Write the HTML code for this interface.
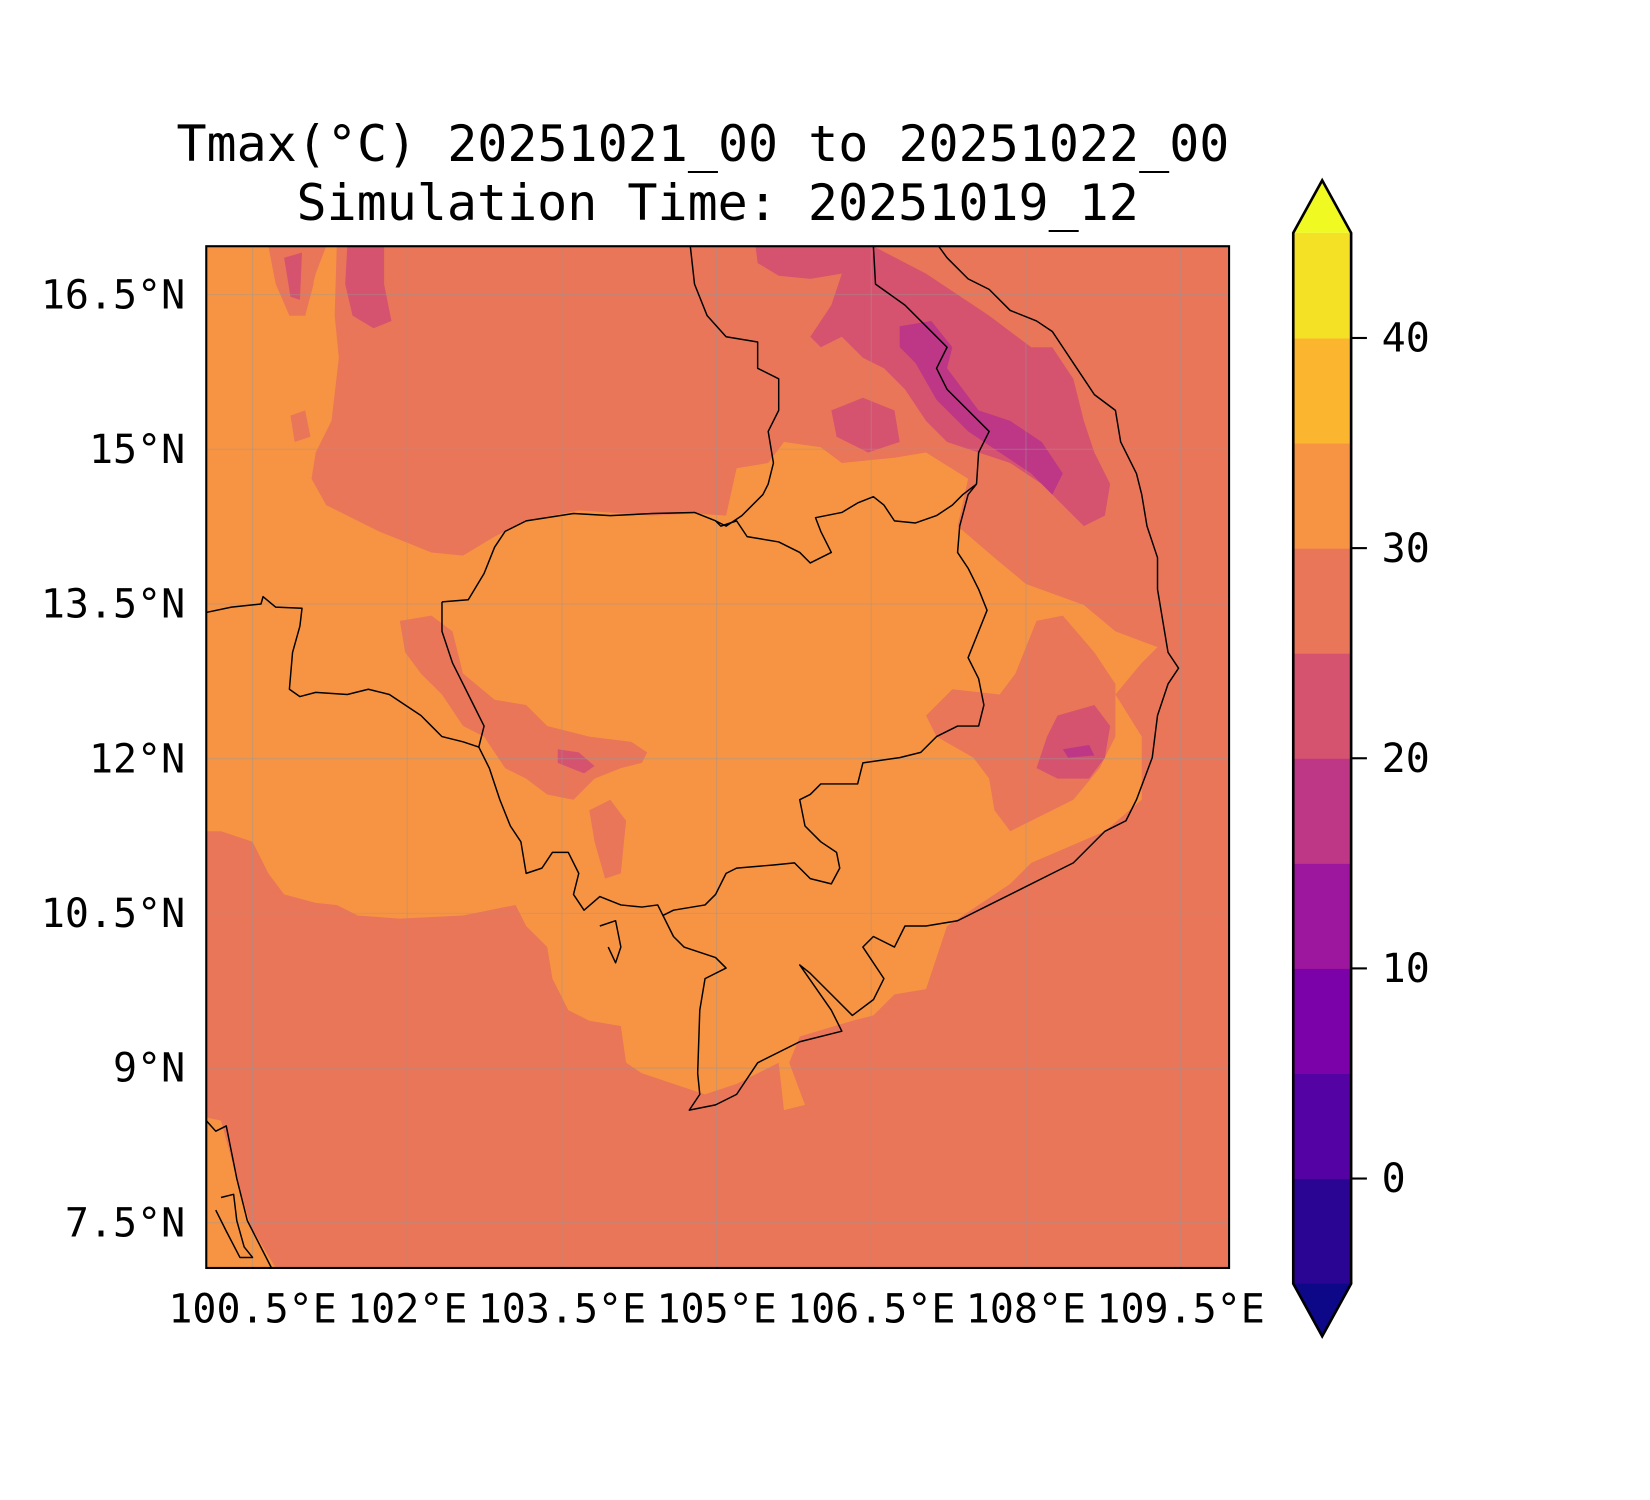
<!DOCTYPE html>
<html><head><meta charset="utf-8"><style>
html,body{margin:0;padding:0;background:#fff;}
svg{display:block;}
text{font-family:"DejaVu Sans Mono","Liberation Mono",monospace;fill:#000;}
</style></head><body>
<svg id="chart" width="1650" height="1500" viewBox="0 0 1568 1425.5" xmlns="http://www.w3.org/2000/svg">
<rect width="1568" height="1426" fill="#fff"/>
<text x="668" y="153" font-size="47.5" text-anchor="middle">Tmax(°C) 20251021_00 to 20251022_00</text>
<text x="682" y="209" font-size="47.5" text-anchor="middle">Simulation Time: 20251019_12</text>
<defs><clipPath id="clip"><rect x="196" y="234" width="972" height="971"/></clipPath></defs>
<g id="map" clip-path="url(#clip)"></g>
<rect x="196" y="234" width="972" height="971" fill="none" stroke="#000" stroke-width="2"/>
<g id="axes"></g>
<g id="cbar"></g>
</svg>
<script>
// axis ranges
const lonTicks = [100.5, 102, 103.5, 105, 106.5, 108, 109.5];
const lonLabels = ["100.5°E","102°E","103.5°E","105°E","106.5°E","108°E","109.5°E"];
const latTicks = [16.5, 15, 13.5, 12, 10.5, 9, 7.5];
const latLabels = ["16.5°N","15°N","13.5°N","12°N","10.5°N","9°N","7.5°N"];
// colorbar levels
const levels = [-5,0,5,10,15,20,25,30,35,40,45];
const levelColors = ["#2a0593","#5402a3","#7a02a8","#9c179e","#bd3786","#d5536f","#e97659","#f79443","#fcb52e","#f4e024"];
const cbTicks = [0,10,20,30,40];
const extendMin = "#0d0887", extendMax = "#f0f921";

const x = lon => 240 + (lon - 100.5) * 98;
const y = lat => 280 - (lat - 16.5) * 98;
const cy = v => 1120 - v * 19.97;
const toLL = a => a.map(p => [100.5 + (p[0]-240)/98, 16.5 - (p[1]-280)/98]);
const NS = "http://www.w3.org/2000/svg";
function mk(tag, attrs, parent){const e=document.createElementNS(NS,tag);for(const k in attrs)e.setAttribute(k,attrs[k]);parent.appendChild(e);return e;}
const ptsStr = ll => ll.map(p => x(p[0]).toFixed(1)+","+y(p[1]).toFixed(1)).join(" ");

// digitized contour regions (lon/lat)
const region30 = toLL([[196,234],[255,234],[262,270],[275,300],[290,300],[300,260],[310,234],[320,234],[318,300],[322,340],[315,400],[300,430],[296,455],[310,480],[360,505],[410,525],[440,528],[470,510],[500,495],[550,485],[620,490],[660,488],[690,490],[700,445],[730,440],[745,420],[780,425],[800,440],[850,435],[880,430],[920,455],[910,500],[945,530],[975,555],[1030,575],[1060,600],[1100,615],[1085,630],[1060,660],[1085,700],[1085,760],[1050,790],[980,820],[960,840],[930,860],[900,880],[880,940],[850,945],[830,965],[810,970],[760,985],[750,1010],[765,1050],[745,1055],[740,1010],[720,1020],[700,1030],[670,1040],[640,1030],[610,1020],[595,1010],[590,975],[560,970],[540,960],[525,930],[520,900],[500,880],[490,860],[440,870],[380,873],[340,870],[320,860],[300,858],[270,850],[255,830],[240,800],[210,790],[196,790]]);
const region30b = toLL([[196,1062],[210,1065],[225,1120],[238,1165],[262,1205],[196,1205]]);
const region25 = [
 toLL([[380,590],[410,585],[430,600],[440,640],[470,665],[500,670],[520,690],[560,700],[600,705],[615,715],[610,725],[590,730],[565,740],[545,760],[520,755],[500,740],[480,730],[460,700],[440,690],[420,660],[400,640],[385,620]]),
 toLL([[560,770],[580,760],[595,780],[590,830],[575,835],[565,800]]),
 toLL([[965,640],[985,590],[1010,585],[1040,620],[1060,650],[1060,700],[1045,730],[1020,760],[990,775],[960,790],[945,770],[940,740],[925,720],[890,700],[880,680],[905,655],[950,660]]),
 toLL([[276,395],[290,390],[295,415],[280,420]]),
 toLL([[268,245],[290,245],[298,270],[290,300],[275,300]])
];
const region20 = [
 toLL([[330,234],[365,234],[365,270],[372,305],[355,312],[335,300],[328,270]]),
 toLL([[718,234],[830,234],[880,260],[940,300],[980,330],[1000,330],[1020,360],[1030,400],[1040,430],[1055,460],[1050,490],[1030,500],[1010,480],[990,460],[960,440],[930,430],[900,420],[880,400],[860,370],[840,350],[820,340],[800,320],[780,330],[770,320],[790,290],[800,260],[770,265],[740,262],[720,250]]),
 toLL([[790,390],[820,378],[850,390],[855,420],[825,430],[795,415]]),
 toLL([[1005,680],[1040,670],[1055,690],[1050,720],[1035,740],[1005,740],[985,730],[995,700]]),
 toLL([[530,712],[550,715],[565,728],[555,735],[530,725]]),
 toLL([[270,245],[287,240],[285,285],[276,282]])
];
const region15 = [
 toLL([[855,310],[885,305],[905,330],[900,350],[930,390],[960,400],[990,420],[1010,450],[1000,470],[980,450],[950,430],[920,410],[890,380],[870,345],[855,330]]),
 toLL([[1010,712],[1035,708],[1040,718],[1015,720]])
];
const coasts = [
 toLL([[420,572],[445,570],[460,545],[470,520],[480,505],[500,495],[545,488],[580,490],[620,488],[660,487],[680,495],[685,500],[700,495],[710,510],[740,515],[760,525],[770,535],[790,525],[780,505],[775,492],[800,487],[815,478],[830,472],[840,480],[850,495],[870,497],[890,490],[905,480],[915,470],[928,460]]),
 toLL([[928,460],[920,470],[912,500],[910,525],[920,540],[930,560],[938,580],[930,600],[920,625],[930,645],[935,670],[930,690],[910,690],[890,700],[875,715],[855,720],[820,725],[815,745],[780,745],[770,755],[760,760],[765,785],[780,800],[795,810],[798,825],[790,840],[770,835],[755,820],[735,822],[700,825],[690,830],[680,850],[670,860],[640,865],[630,870],[625,860],[610,862],[590,860],[570,852],[555,865],[545,850],[550,830],[540,810],[525,810],[515,825],[500,830],[495,800],[485,785],[475,760],[465,730],[455,710],[460,690],[450,670],[440,650],[430,630],[420,600],[420,572]]),
 toLL([[196,582],[220,577],[248,574],[250,567],[262,577],[287,578],[285,595],[278,620],[275,655],[285,662],[300,658],[330,660],[350,655],[370,660],[385,670],[400,680],[410,690],[420,700],[440,705],[455,710]]),
 toLL([[892,234],[900,245],[920,265],[940,275],[960,295],[985,305],[1000,315],[1010,330],[1020,345],[1040,375],[1060,390],[1065,420],[1080,450],[1085,470],[1090,500],[1100,530],[1100,560],[1105,590],[1110,620],[1120,635],[1110,650],[1100,680],[1095,720],[1080,760],[1070,780],[1050,790],[1020,820],[1000,830],[970,845],[940,860],[910,875],[880,880],[860,880],[850,900],[830,890],[820,900],[840,930],[830,950],[810,965],[790,945],[770,925],[760,917],[790,960],[800,980],[760,990],[720,1010],[700,1040],[680,1050],[655,1055],[665,1040],[663,1020],[665,960],[670,930],[690,920],[680,910],[665,905],[650,900],[640,890],[630,870]]),
 toLL([[830,234],[832,270],[860,290],[880,310],[900,330],[890,350],[900,370],[920,390],[940,410],[930,430],[928,460]]),
 toLL([[656,234],[660,270],[672,300],[690,320],[720,325],[720,350],[740,360],[740,390],[730,410],[735,440],[730,460],[725,470],[705,490],[690,500],[680,495]]),
 toLL([[196,1065],[205,1075],[215,1070],[225,1120],[235,1160],[258,1205]]),
 toLL([[210,1138],[222,1135],[225,1160],[232,1185],[240,1195],[228,1195],[215,1170],[205,1150]]),
 toLL([[570,880],[585,875],[590,900],[585,915],[578,900]])
];

const map = document.getElementById('map');
const ocean = mk('rect',{x:196,y:234,width:972,height:971,fill:levelColors[6]},map);


[region30, region30b].forEach(r=>{
 const p = mk('polygon',{points:ptsStr(r),fill:levelColors[7]},map);
 
 
});
region25.forEach(r=>{
 const p = mk('polygon',{points:ptsStr(r),fill:levelColors[6]},map);
 
 
});
region20.forEach(r=>{
 const p = mk('polygon',{points:ptsStr(r),fill:levelColors[5]},map);
 
 
});
region15.forEach(r=>{
 const p = mk('polygon',{points:ptsStr(r),fill:levelColors[4]},map);
 
 
});
// gridlines
lonTicks.forEach(t=>{
 const l = mk('line',{x1:x(t),x2:x(t),y1:234,y2:1205,stroke:'rgba(150,150,150,0.45)','stroke-width':1},map);
 
 
});
latTicks.forEach(t=>{
 const l = mk('line',{x1:196,x2:1168,y1:y(t),y2:y(t),stroke:'rgba(150,150,150,0.45)','stroke-width':1},map);
 
 
});
coasts.forEach(c=>{
 const p = mk('polyline',{points:ptsStr(c),fill:'none',stroke:'#000','stroke-width':1.4,'stroke-linejoin':'round'},map);
 
 
});

const axes = document.getElementById('axes');
lonTicks.forEach((t,i)=>{
 const tx = mk('text',{x:x(t),y:1257,'font-size':38,'text-anchor':'middle'},axes);
 tx.textContent = lonLabels[i];
 
 
});
latTicks.forEach((t,i)=>{
 const tx = mk('text',{x:176,y:y(t)+13,'font-size':38,'text-anchor':'end'},axes);
 tx.textContent = latLabels[i];
 
 
});

// colorbar
const cb = document.getElementById('cbar');
const cx0 = 1229, cx1 = 1284, cmid = (cx0+cx1)/2;
for(let i=0;i<levelColors.length;i++){
 const r = mk('rect',{x:cx0,y:cy(levels[i+1]),width:cx1-cx0,height:cy(levels[i])-cy(levels[i+1])+0.5,fill:levelColors[i]},cb);
 
 
}
const tTop = mk('polygon',{points:`${cx0},${cy(45)} ${cmid},${cy(45)-50} ${cx1},${cy(45)}`,fill:extendMax},cb);


const tBot = mk('polygon',{points:`${cx0},${cy(-5)} ${cmid},${cy(-5)+50} ${cx1},${cy(-5)}`,fill:extendMin},cb);


const outline = mk('polygon',{points:`${cx0},${cy(45)} ${cmid},${cy(45)-50} ${cx1},${cy(45)} ${cx1},${cy(-5)} ${cmid},${cy(-5)+50} ${cx0},${cy(-5)}`,fill:'none',stroke:'#000','stroke-width':2.5},cb);


cbTicks.forEach(t=>{
 const l = mk('line',{x1:cx1,x2:cx1+15,y1:cy(t),y2:cy(t),stroke:'#000','stroke-width':2},cb);
 
 
 const tx = mk('text',{x:1313,y:cy(t)+13,'font-size':38},cb);
 tx.textContent = String(t);
 
 
});
</script>
</body></html>
